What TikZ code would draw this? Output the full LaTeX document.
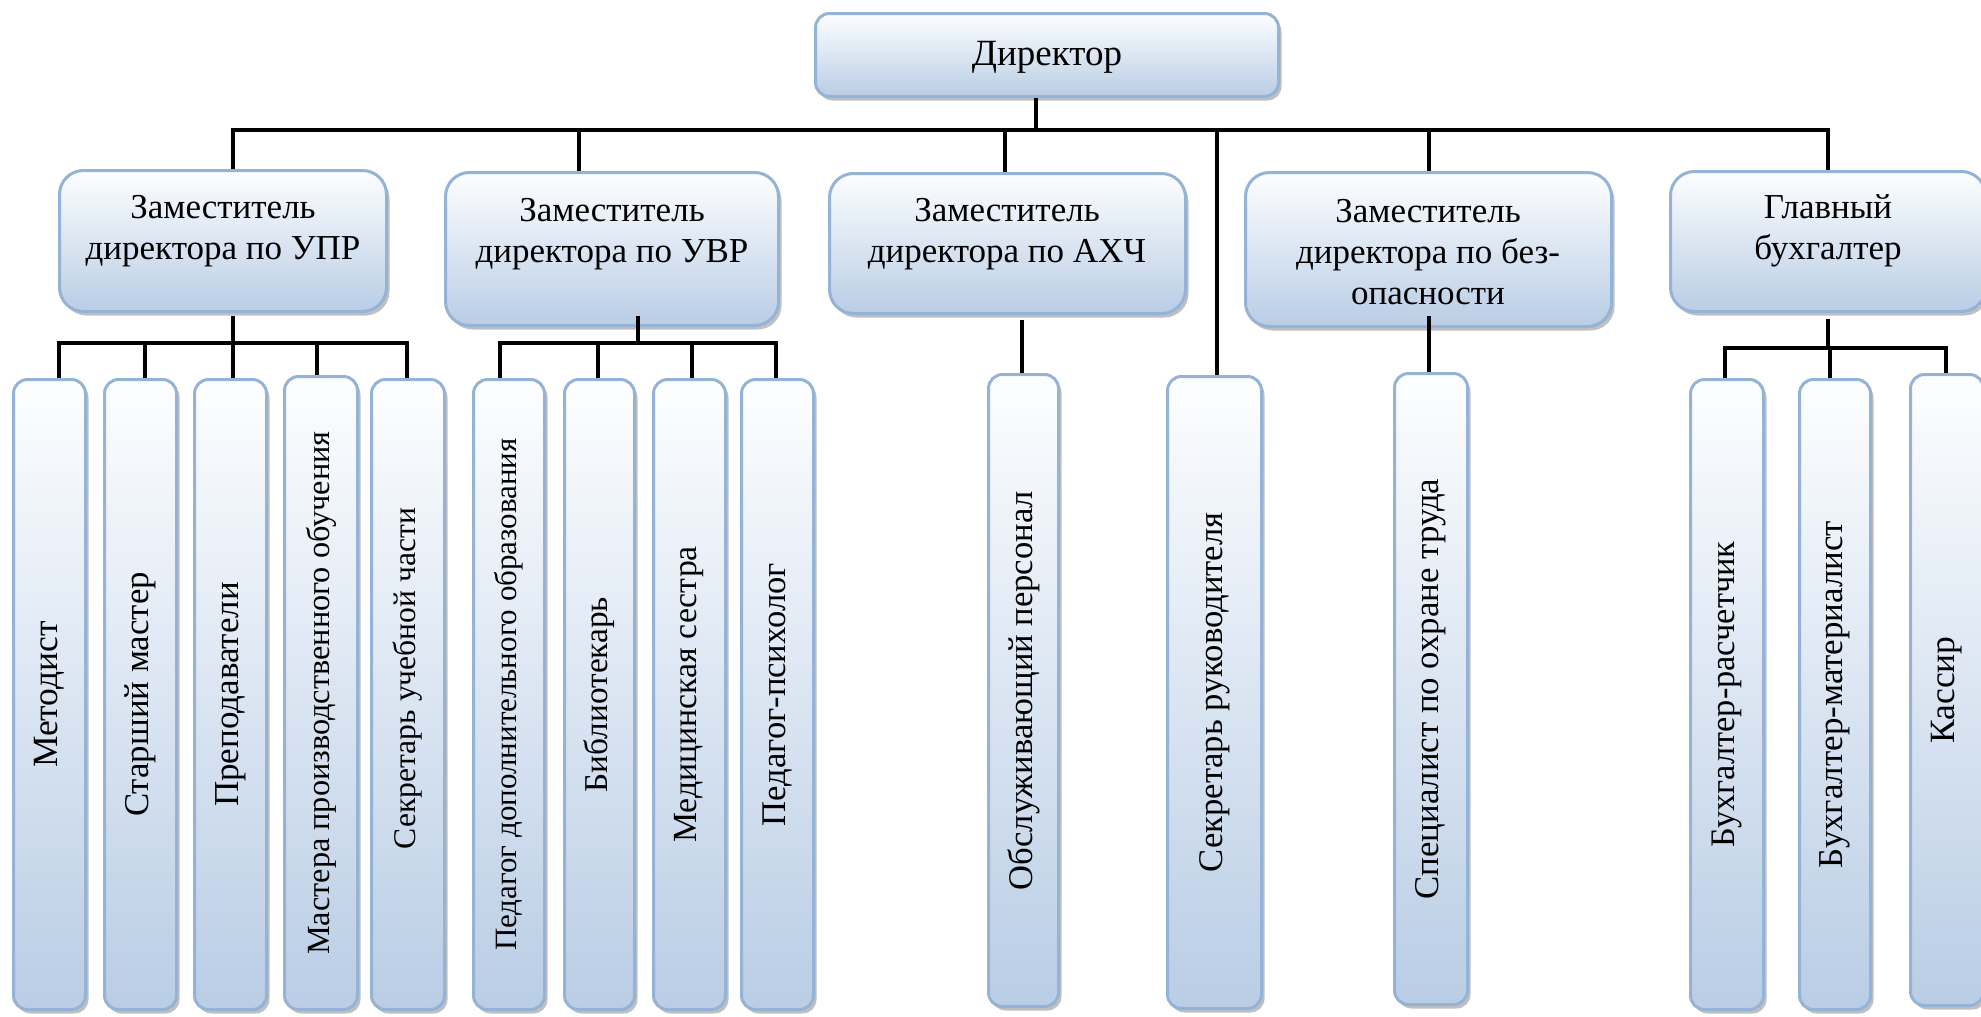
\documentclass[tikz,border=0pt]{standalone}
\usepackage{fontspec}
\usepackage{graphicx}
\setmainfont{Liberation Serif}
\usetikzlibrary{shadows}
\definecolor{boxtop}{RGB}{253,254,255}
\definecolor{boxbot}{RGB}{185,205,229}
\definecolor{boxline}{RGB}{149,179,215}
\begin{document}
\begin{tikzpicture}[x=1pt,y=-1pt,
  box/.style={draw=boxline, line width=3pt, top color=boxtop, bottom color=boxbot,
    drop shadow={shadow xshift=3pt, shadow yshift=-4pt, opacity=0.55, fill=black!45},
    inner sep=0pt},
  hbox/.style={box, rounded corners=24pt},
  vbox/.style={box, rounded corners=14pt, font=\fontsize{34.6}{38}\selectfont},
  fs/.style={font=\fontsize{#1}{38}\selectfont},
  conn/.style={line width=4pt, black},
  lbl/.style={font=\fontsize{35}{41}\selectfont, align=center, anchor=north, inner sep=0pt}]
\useasboundingbox (0,0) rectangle (1981,1017);

% Director
\node[box, rounded corners=14pt, minimum width=463pt, minimum height=83pt] (dir) at (1047,55) {};
\node[font=\fontsize{37}{41}\selectfont, anchor=base, inner sep=0pt] (tdir) at (1047,65) {Директор};

% Level 2
\node[hbox, minimum width=327pt, minimum height=141pt] (upr) at (223,241) {};
\node[hbox, minimum width=333pt, minimum height=153pt] (uvr) at (612,249) {};
\node[hbox, minimum width=356pt, minimum height=140pt] (ahch) at (1007.5,243.5) {};
\node[hbox, minimum width=366pt, minimum height=154pt] (bez) at (1428.5,249.5) {};
\node[hbox, minimum width=315pt, minimum height=140pt] (buh) at (1828,241.5) {};

\node[lbl] (tupr) at (223,189.3) {\strut Заместитель\\директора по УПР};
\node[lbl] (tuvr) at (612,192.3) {\strut Заместитель\\директора по УВР};
\node[lbl] (tahch) at (1007,192.3) {\strut Заместитель\\директора по АХЧ};
\node[lbl] (tbez) at (1428,193.3) {\strut Заместитель\\директора по без-\\опасности};
\node[lbl] (tbuh) at (1828,189.3) {\strut Главный\\бухгалтер};

% Level 3
\node[vbox, fs=35.5, minimum width=72pt, minimum height=630pt] (m1) at (49.5,694.5) {\rotatebox{90}{Методист}};
\node[vbox, fs=34.8, minimum width=72pt, minimum height=630pt] (m2) at (140.5,694.5) {\rotatebox{90}{Старший мастер}};
\node[vbox, fs=35, minimum width=72pt, minimum height=630pt] (m3) at (230.5,694.5) {\rotatebox{90}{Преподаватели}};
\node[vbox, fs=32.3, minimum width=73pt, minimum height=633pt] (m4) at (321,693) {\rotatebox{90}{Мастера производственного обучения}};
\node[vbox, fs=31.6, minimum width=73pt, minimum height=630pt] (m5) at (408,694.5) {\rotatebox{90}{\kern32pt Секретарь учебной части}};

\node[vbox, fs=31, minimum width=71pt, minimum height=630pt] (v1) at (509,694.5) {\rotatebox{90}{Педагог дополнительного образования}};
\node[vbox, fs=33.3, minimum width=70pt, minimum height=630pt] (v2) at (599.5,694.5) {\rotatebox{90}{Библиотекарь}};
\node[vbox, fs=33.8, minimum width=72pt, minimum height=630pt] (v3) at (689.5,694.5) {\rotatebox{90}{Медицинская сестра}};
\node[vbox, fs=34.6, minimum width=72pt, minimum height=630pt] (v4) at (777.5,694.5) {\rotatebox{90}{Педагог-психолог}};

\node[vbox, fs=34.6, minimum width=70pt, minimum height=632pt] (a1) at (1023.5,690.5) {\rotatebox{90}{Обслуживающий персонал}};
\node[vbox, fs=34.6, minimum width=94pt, minimum height=632pt] (sec) at (1214.5,692.5) {\rotatebox{90}{Секретарь руководителя}};
\node[vbox, fs=34.8, minimum width=73pt, minimum height=631pt] (sp) at (1431,689) {\rotatebox{90}{Специалист по охране труда}};

\node[vbox, fs=34.4, minimum width=73pt, minimum height=630pt] (b1) at (1727,694.5) {\rotatebox{90}{Бухгалтер-расчетчик}};
\node[vbox, fs=34.9, minimum width=71pt, minimum height=630pt] (b2) at (1835,694.5) {\rotatebox{90}{Бухгалтер-материалист}};
\node[vbox, fs=35.5, minimum width=73pt, minimum height=631pt] (b3) at (1947,690) {\rotatebox{90}{Кассир}};

% Junction coordinates
\coordinate (jd) at (1036,130);
\coordinate (jupr) at (233,130);
\coordinate (juvr) at (579,130);
\coordinate (jahch) at (1005,130);
\coordinate (jsec) at (1217,130);
\coordinate (jbez) at (1429,130);
\coordinate (jbuh) at (1828,130);

\coordinate (supr) at (233,316);
\coordinate (kupr) at (233,343);
\coordinate (d1) at (59,343);
\coordinate (d2) at (145,343);
\coordinate (d4) at (317,343);
\coordinate (d5) at (407,343);

\coordinate (suvr) at (638,316);
\coordinate (kuvr) at (638,343);
\coordinate (e1) at (500,343);
\coordinate (e2) at (598,343);
\coordinate (e3) at (692,343);
\coordinate (e4) at (776,343);

\coordinate (sahch) at (1022,320);
\coordinate (sbez) at (1429,316);

\coordinate (sbuh) at (1828,319);
\coordinate (kbuh) at (1828,348);
\coordinate (f1) at (1725,348);
\coordinate (f2) at (1830,348);
\coordinate (f3) at (1946,348);

% Connectors
\draw[conn] (dir.south -| jd) -- (jd);
\draw[conn] (jupr |- upr.north) -- (jupr) -- (jbuh) -- (jbuh |- buh.north);
\draw[conn] (juvr) -- (juvr |- uvr.north);
\draw[conn] (jahch) -- (jahch |- ahch.north);
\draw[conn] (jsec) -- (jsec |- sec.north);
\draw[conn] (jbez) -- (jbez |- bez.north);

\draw[conn] (supr) -- (kupr);
\draw[conn] (d1 |- m1.north) -- (d1) -- (d5) -- (d5 |- m5.north);
\draw[conn] (d2) -- (d2 |- m2.north);
\draw[conn] (kupr) -- (kupr |- m3.north);
\draw[conn] (d4) -- (d4 |- m4.north);

\draw[conn] (suvr) -- (kuvr);
\draw[conn] (e1 |- v1.north) -- (e1) -- (e4) -- (e4 |- v4.north);
\draw[conn] (e2) -- (e2 |- v2.north);
\draw[conn] (e3) -- (e3 |- v3.north);

\draw[conn] (sahch) -- (sahch |- a1.north);
\draw[conn] (sbez) -- (sbez |- sp.north);

\draw[conn] (sbuh) -- (kbuh);
\draw[conn] (f1 |- b1.north) -- (f1) -- (f3) -- (f3 |- b3.north);
\draw[conn] (f2) -- (f2 |- b2.north);
\end{tikzpicture}
\end{document}
